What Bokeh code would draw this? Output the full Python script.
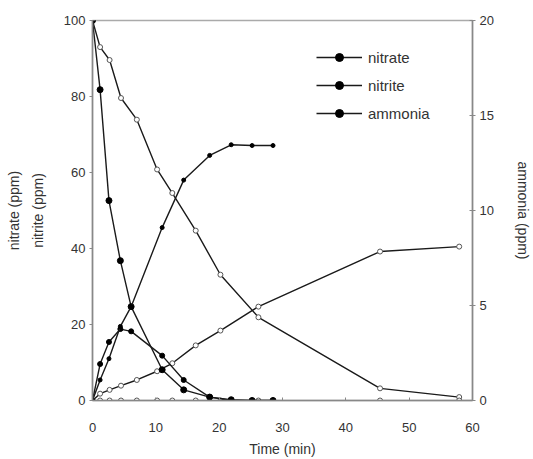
from bokeh.plotting import figure
from bokeh.models import Range1d, LinearAxis, Legend, LegendItem, FixedTicker
from bokeh.embed import file_html
from bokeh.resources import INLINE

# Experiment 1 (filled markers)
t1 = [0, 1.2, 2.6, 4.4, 6.1, 11, 14.4, 18.5, 21.9, 25.2, 28.5]
nitrate1 = [100, 81.8, 52.6, 36.8, 24.7, 8.1, 2.8, 0.9, 0.2, 0, 0]
nitrite1 = [0, 9.6, 15.4, 18.8, 18.2, 11.8, 5.4, 0.9, 0, 0, 0]
ammonia1 = [0, 1.08, 2.2, 3.9, 4.94, 9.1, 11.6, 12.9, 13.46, 13.42, 13.42]

# Experiment 2 (open markers)
t2 = [0, 1.2, 2.7, 4.5, 7, 10.2, 12.6, 16.3, 20.2, 26.2, 45.4, 57.9]
nitrate2 = [100, 93, 89.6, 79.6, 73.9, 60.8, 54.6, 44.7, 33.1, 21.9, 3.2, 0.9]
nitrite2 = [0, 0, 0, 0, 0, 0, 0, 0, 0, 0, 0, 0]
ammonia2 = [0, 0.36, 0.56, 0.78, 1.08, 1.54, 1.96, 2.9, 3.68, 4.94, 7.84, 8.1]

left_ticks = [0, 20, 40, 60, 80, 100]
right_ticks = [0, 5, 10, 15, 20]
x_ticks = [0, 10, 20, 30, 40, 50, 60]

FONT = "Liberation Sans"
TXT = "#333333"
AX = "#888888"
LC = "#1a1a1a"

p = figure(width=533, height=459, output_backend="svg", toolbar_location=None,
           x_range=Range1d(0, 60), y_range=Range1d(0, 100),
           min_border_left=92, min_border_right=61, min_border_top=20, min_border_bottom=59)
p.extra_y_ranges = {"amm": Range1d(0, 20)}
p.grid.visible = False
p.outline_line_color = "#aaaaaa"
p.outline_line_width = 1.5

for ax in [p.xaxis[0], p.yaxis[0]]:
    ax.axis_line_color = AX
    ax.axis_line_width = 1.5
    ax.major_tick_line_color = AX
    ax.minor_tick_line_color = None
    ax.major_label_text_font = FONT
    ax.major_label_text_font_size = "13px"
    ax.major_label_text_color = TXT
    ax.axis_label_text_font = FONT
    ax.axis_label_text_font_size = "14px"
    ax.axis_label_text_font_style = "normal"
    ax.axis_label_text_color = TXT

p.xaxis.ticker = FixedTicker(ticks=x_ticks)
p.xaxis.major_tick_in = 3
p.xaxis.major_tick_out = 0
p.xaxis.axis_label = "Time (min)"
p.xaxis.axis_label_standoff = 6
p.xaxis.major_label_standoff = 22

p.yaxis.ticker = FixedTicker(ticks=left_ticks)
p.yaxis.major_tick_in = 0
p.yaxis.major_tick_out = 3
p.yaxis.axis_label = "nitrate (ppm)\nnitrite (ppm)"
p.yaxis.axis_label_text_line_height = 1.5
p.yaxis.axis_label_standoff = 15
p.yaxis.major_label_standoff = 4

ry = LinearAxis(y_range_name="amm", ticker=FixedTicker(ticks=right_ticks),
                axis_label="ammonia (ppm)")
ry.axis_line_color = AX
ry.axis_line_width = 1.5
ry.major_tick_line_color = AX
ry.minor_tick_line_color = None
ry.major_tick_in = 3
ry.major_tick_out = 3
ry.major_label_text_font = FONT
ry.major_label_text_font_size = "13px"
ry.major_label_text_color = TXT
ry.major_label_standoff = 4
ry.axis_label_text_font = FONT
ry.axis_label_text_font_size = "14px"
ry.axis_label_text_font_style = "normal"
ry.axis_label_text_color = TXT
ry.axis_label_standoff = 18
p.add_layout(ry, "right")

# open series (experiment 2)
p.line(t2, nitrate2, line_color=LC, line_width=1.4)
p.scatter(t2, nitrate2, marker="circle", size=5, fill_color="white", line_color="#555555")
p.line(t2, nitrite2, line_color="#666666", line_width=1.2)
p.scatter(t2, nitrite2, marker="circle", size=5, fill_color="white", line_color="#555555")
p.line(t2, ammonia2, line_color=LC, line_width=1.4, y_range_name="amm")
p.scatter(t2, ammonia2, marker="circle", size=5, fill_color="white", line_color="#555555", y_range_name="amm")

# filled series (experiment 1)
l1 = p.line(t1, nitrate1, line_color=LC, line_width=1.4)
s1 = p.scatter(t1, nitrate1, marker="circle", size=6, fill_color="black", line_color="black")
l2 = p.line(t1, nitrite1, line_color=LC, line_width=1.4)
s2 = p.scatter(t1, nitrite1, marker="circle", size=5, fill_color="black", line_color="black")
l3 = p.line(t1, ammonia1, line_color=LC, line_width=1.4, y_range_name="amm")
s3 = p.scatter(t1, ammonia1, marker="circle", size=4, fill_color="black", line_color="black", y_range_name="amm")

legend = Legend(items=[LegendItem(label="nitrate", renderers=[l1, s1]),
                       LegendItem(label="nitrite", renderers=[l2, s2]),
                       LegendItem(label="ammonia", renderers=[l3, s3])],
                location=(224, 277), glyph_width=46, glyph_height=20, spacing=8,
                label_standoff=6, padding=0, margin=0,
                border_line_color=None, background_fill_alpha=0,
                label_text_font=FONT, label_text_font_size="15px", label_text_color=TXT)
p.add_layout(legend)

open("out.html", "w").write(file_html(p, INLINE))
